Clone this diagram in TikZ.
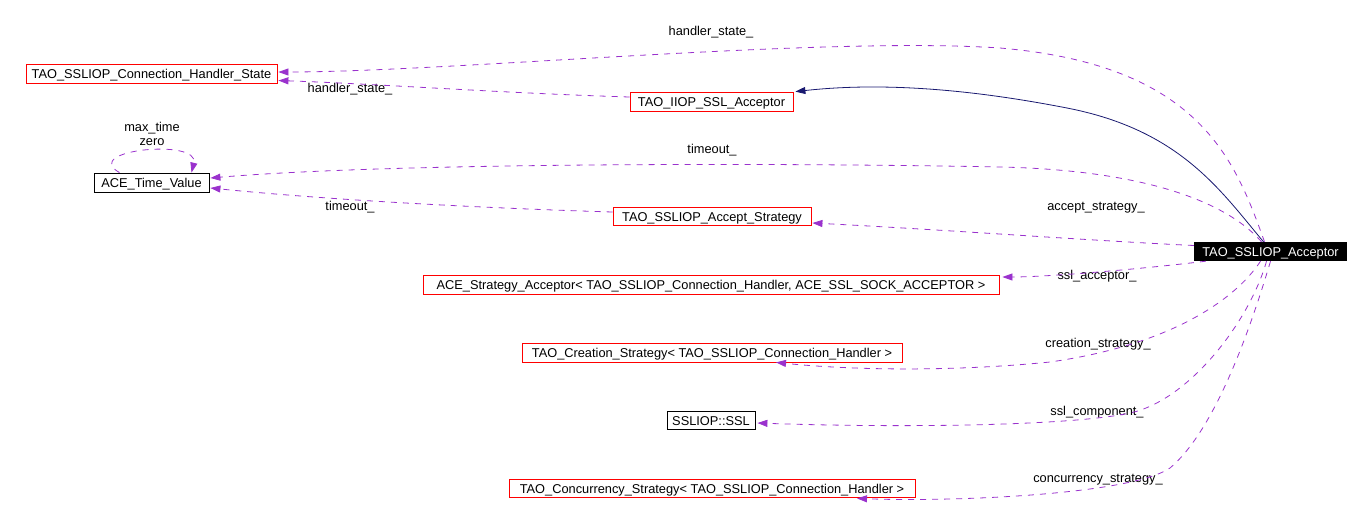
\documentclass[tikz,border=0pt]{standalone}
\usepackage{fontspec}
\setmainfont{Liberation Sans}
\usetikzlibrary{arrows.meta,calc}
\definecolor{edgep}{HTML}{9A32CD}
\definecolor{inhc}{HTML}{191970}
\tikzset{
  lab/.style={font=\fontsize{12.8}{14}\selectfont, inner sep=0pt, text=black},
  cls/.style={lab, draw=red, line width=0.8pt, minimum height=19pt, text height=11pt, text depth=1pt},
  clsb/.style={cls, draw=black},
  cur/.style={lab, fill=black, text=white, minimum height=19pt, text height=11pt, text depth=1pt},
  use/.style={draw=edgep, line width=0.8pt, dash pattern=on 6pt off 6pt, -{Triangle[length=10pt,width=7pt]}},
  inh/.style={draw=inhc, line width=0.8pt, -{Triangle[length=10pt,width=7pt]}},
}
\begin{document}
\begin{tikzpicture}[x=1pt,y=-1pt]
\useasboundingbox (0,0) rectangle (1372,515);
% nodes
\node[cls, minimum width=251pt] (hs) at (151.5,73.5) {TAO\_SSLIOP\_Connection\_Handler\_State};
\node[cls, minimum width=163pt] (iiop) at (711.5,101.5) {TAO\_IIOP\_SSL\_Acceptor};
\node[clsb, minimum width=115pt] (tv) at (151.5,182.5) {ACE\_Time\_Value};
\node[cls, minimum width=198pt, minimum height=18pt] (as) at (712,216) {TAO\_SSLIOP\_Accept\_Strategy};
\node[cls, minimum width=576pt] (sa) at (711,284.5) {ACE\_Strategy\_Acceptor< TAO\_SSLIOP\_Connection\_Handler, ACE\_SSL\_SOCK\_ACCEPTOR >};
\node[cls, minimum width=380pt] (cs) at (712,352.5) {TAO\_Creation\_Strategy< TAO\_SSLIOP\_Connection\_Handler >};
\node[clsb, minimum width=88pt, minimum height=18pt] (ssl) at (711,420) {SSLIOP::SSL};
\node[cls, minimum width=406pt, minimum height=18pt] (conc) at (712,488.5) {TAO\_Concurrency\_Strategy< TAO\_SSLIOP\_Connection\_Handler >};
\node[cur, minimum width=153pt] (acc) at (1270.5,251.5) {TAO\_SSLIOP\_Acceptor};
% labels
\node[lab] (l1) at (711,32) {handler\_state\_};
\node[lab] (l2) at (350,89) {handler\_state\_};
\node[lab, align=center] (l3) at (152,134) {max\_time\\zero};
\node[lab] (l4) at (712,150) {timeout\_};
\node[lab] (l5) at (350,207) {timeout\_};
\node[lab] (l6) at (1096,208) {accept\_strategy\_};
\node[lab] (l7) at (1097,276) {ssl\_acceptor\_};
\node[lab] (l8) at (1098,344) {creation\_strategy\_};
\node[lab] (l9) at (1097,412) {ssl\_component\_};
\node[lab] (l10) at (1098,480) {concurrency\_strategy\_};
% edges
\draw[use] ($(acc.north)+(-6,0)$) .. controls (1235,160) and (1200,65) .. (1000,48)
  .. controls (820,36) and (450,72) .. ($(hs.east)+(1,-1.5)$);
\draw[use] ($(iiop.west)+(0,-4.5)$) .. controls (500,93) and (380,84) .. ($(hs.east)+(1,7)$);
\draw[inh] ($(acc.north)+(-7,0)$) .. controls (1220,190) and (1180,130) .. (1067,108)
  .. controls (1000,95) and (900,80) .. ($(iiop.north east)+(2,0)$);
\path (tv.north) ++(-32,0) coordinate (ls) (tv.north) ++(40,0) coordinate (le);
\draw[use] (ls) .. controls (80,150) and (200,138) .. (le);
\draw[use] ($(acc.north)+(-9,0)$) .. controls (1225,200) and (1140,170) .. (1000,167)
  .. controls (800,163) and (400,162) .. ($(tv.east)+(1,-4.5)$);
\draw[use] ($(as.west)+(0,-4)$) .. controls (480,208) and (330,200) .. ($(tv.east)+(1,5.5)$);
\draw[use] ($(acc.west)+(0,-6)$) .. controls (1080,240) and (950,230) .. ($(as.east)+(1,7)$);
\draw[use] ($(acc.south west)+(12,0)$) .. controls (1150,268) and (1050,277) .. ($(sa.east)+(3,-7.5)$);
\draw[use] ($(acc.south)+(-10,0)$) .. controls (1235,300) and (1170,345) .. (1050,362)
  .. controls (950,372) and (850,370) .. ($(cs.south)+(64,0)$);
\draw[use] ($(acc.south)+(-4,0)$) .. controls (1250,320) and (1190,400) .. (1130,413)
  .. controls (1070,426) and (900,428) .. ($(ssl.east)+(2,3)$);
\draw[use] (acc.south) .. controls (1250,330) and (1215,430) .. (1170,468)
  .. controls (1130,495) and (950,502) .. ($(conc.south)+(145,0.5)$);
\end{tikzpicture}
\end{document}
